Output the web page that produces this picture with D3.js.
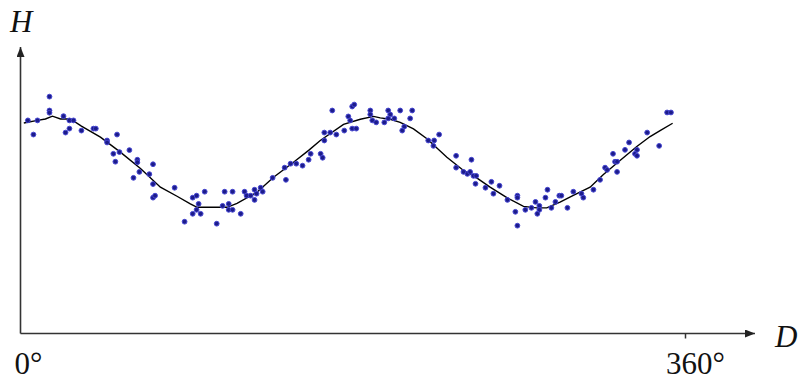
<!DOCTYPE html>
<html>
<head>
<meta charset="utf-8">
<script src="https://cdn.jsdelivr.net/npm/d3@7"></script>
<style>
  body { margin: 0; background: #fff; }
  svg { display: block; }
</style>
</head>
<body>
<svg id="chart" width="798" height="381"></svg>
<script>
// scatter points (D in degrees, H in arbitrary units)
const pointD = [
  4.0, 7.0, 9.2, 15.7, 15.7, 15.7, 23.3, 24.4, 26.5, 26.5, 28.7, 33.0, 39.5, 40.8,
  46.9, 46.9, 52.3, 50.3, 53.6, 51.4, 59.0, 63.3, 63.3, 64.4, 61.2, 69.8, 71.8, 71.8,
  71.8, 72.9, 83.5, 93.3, 95.4, 96.5, 95.4, 93.3, 97.6, 88.9, 99.8, 106.3, 109.5,
  110.6, 112.8, 112.8, 114.9, 114.9, 119.3, 121.4, 122.5, 124.7, 126.8, 127.9, 126.8,
  130.1, 131.2, 136.6, 143.1, 143.8, 146.3, 149.4, 152.8, 156.1, 157.2, 162.6, 163.7,
  164.6, 164.6, 167.8, 171.1, 168.9, 175.4, 177.6, 178.6, 179.7, 181.9, 179.7, 180.8,
  189.5, 189.5, 190.6, 192.7, 197.1, 199.2, 200.3, 199.2, 202.5, 205.7, 207.9, 206.8,
  211.1, 212.2, 220.9, 224.1, 223.7, 226.8, 236.0, 236.0, 244.3, 240.0, 242.1, 243.6,
  245.4, 246.9, 246.5, 251.9, 255.1, 256.2, 259.5, 263.8, 269.2, 269.2, 268.1, 269.2,
  273.5, 276.8, 279.0, 281.1, 281.1, 280.0, 284.4, 285.5, 287.6, 289.8, 291.9, 293.0,
  296.3, 299.5, 303.9, 304.9, 310.4, 314.0, 316.7, 317.8, 323.2, 322.1, 323.2, 321.0,
  327.5, 329.7, 332.9, 334.0, 334.0, 339.5, 346.0, 350.3, 352.4
];
const pointH = [
  75.3, 70.3, 75.3, 83.7, 78.8, 78.0, 76.8, 71.0, 75.3, 72.4, 75.3, 71.7, 72.4, 72.4,
  68.2, 67.5, 70.3, 63.5, 64.1, 60.7, 64.8, 61.4, 60.5, 57.1, 55.0, 56.3, 59.8, 52.8,
  48.0, 48.7, 51.5, 48.0, 48.7, 45.8, 43.7, 42.3, 42.3, 39.5, 50.1, 38.8, 45.1,
  50.1, 45.8, 43.7, 50.1, 43.7, 42.3, 50.1, 48.7, 48.7, 50.8, 49.4, 47.2,
  51.5, 50.1, 55.0, 58.6, 54.3, 60.0, 60.0, 59.3, 61.4, 63.5, 63.5, 62.1,
  68.2, 71.0, 71.0, 70.3, 78.8, 71.7, 76.7, 75.3, 72.4, 72.4, 80.2, 80.9,
  78.8, 77.4, 75.3, 74.6, 74.6, 78.8, 77.4, 76.0, 76.0, 78.8, 73.1, 71.7,
  76.0, 78.8, 68.2, 68.2, 66.3, 70.3, 62.8, 58.6, 61.4, 57.1, 56.4, 57.1,
  55.7, 55.7, 52.9, 51.5, 53.6, 49.4, 52.2, 47.2, 48.7, 48.0, 43.0, 38.1,
  43.7, 44.4, 46.5, 45.1, 43.7, 42.3, 48.0, 50.8, 44.4, 46.5, 48.7, 48.7,
  44.4, 50.1, 49.4, 48.0, 50.8, 54.3, 58.6, 57.8, 57.1, 60.7, 60.7, 63.5,
  64.9, 67.5, 63.5, 62.8, 64.9, 71.0, 66.3, 78.1, 78.1
];

// smoothed curve
const lineD = [
  1.8, 9.2, 13.5, 17.3, 21.7, 27.1, 33.0, 43.3, 54.1, 65.0, 75.8, 84.8, 92.0, 95.7,
  111.9, 117.3, 128.1, 137.1, 147.9, 156.1, 162.4, 175.0, 184.1, 191.3, 194.9, 200.3,
  205.7, 212.9, 220.2, 231.0, 240.0, 245.4, 254.4, 263.5, 272.5, 279.7, 285.1, 292.3,
  299.5, 308.6, 315.8, 324.8, 333.9, 341.1, 346.5, 353.3
];
const lineH = [
  74.4, 75.3, 75.8, 76.8, 75.8, 75.8, 73.3, 69.4, 64.1, 58.3, 51.7, 48.5, 45.8, 44.6,
  44.6, 46.0, 49.9, 55.2, 60.5, 64.7, 68.2, 73.9, 75.7, 76.7, 76.2, 75.7,
  74.6, 72.3, 68.8, 62.3, 57.6, 55.8, 51.7, 48.0, 44.9, 44.4, 44.4, 46.4,
  48.8, 51.7, 56.2, 61.1, 66.1, 69.6, 71.7, 74.3
];

const xTicks = [0, 360];
const xTickLabels = ["0°", "360°"];

const serif = "'Liberation Serif', 'Times New Roman', Times, 'DejaVu Serif', serif";

const svg = d3.select("#chart");
const x = d3.scaleLinear().domain([0, 360]).range([20.5, 685]);
const y = d3.scaleLinear().domain([0, 100]).range([333.5, 50.5]);

// arrowhead
svg.append("defs").append("marker")
  .attr("id", "arrow")
  .attr("viewBox", "0 0 10 8")
  .attr("refX", 10).attr("refY", 4)
  .attr("markerWidth", 10).attr("markerHeight", 8)
  .attr("markerUnits", "userSpaceOnUse")
  .attr("orient", "auto")
  .append("path")
  .attr("d", "M0,0 L10,4 L0,8 Z")
  .attr("fill", "#222");

// axes
svg.append("line")
  .attr("x1", x(0)).attr("y1", y(0))
  .attr("x2", 755).attr("y2", y(0))
  .attr("stroke", "#333").attr("stroke-width", 1.6)
  .attr("marker-end", "url(#arrow)");
svg.append("line")
  .attr("x1", x(0)).attr("y1", y(0))
  .attr("x2", x(0)).attr("y2", 47)
  .attr("stroke", "#333").attr("stroke-width", 1.6)
  .attr("marker-end", "url(#arrow)");

const xAxis = d3.axisBottom(x)
  .tickValues([360])
  .tickSize(5)
  .tickFormat("");
svg.append("g")
  .attr("transform", `translate(0,${y(0)})`)
  .call(xAxis)
  .call((g) => g.select(".domain").remove())
  .selectAll("line").attr("stroke", "#333").attr("stroke-width", 1.5);

// tick labels
const labelShift = [-6, -19];
svg.selectAll(".xlabel")
  .data(xTicks)
  .enter()
  .append("text")
  .attr("class", "xlabel")
  .attr("x", (d, i) => x(d) + labelShift[i])
  .attr("y", 374)
  .attr("font-family", serif)
  .attr("font-size", 31)
  .attr("fill", "#111")
  .text((d, i) => xTickLabels[i]);

svg.append("text")
  .attr("x", 10).attr("y", 32)
  .attr("font-family", serif)
  .attr("font-size", 31).attr("font-style", "italic")
  .attr("fill", "#111")
  .text("H");
svg.append("text")
  .attr("x", 775).attr("y", 347)
  .attr("font-family", serif)
  .attr("font-size", 31).attr("font-style", "italic")
  .attr("fill", "#111")
  .text("D");

// curve
const line = d3.line()
  .x((d, i) => x(lineD[i]))
  .y((d, i) => y(lineH[i]));
svg.append("path")
  .datum(lineD)
  .attr("d", line)
  .attr("fill", "none")
  .attr("stroke", "#000")
  .attr("stroke-width", 1.4);

// points
svg.selectAll(".pt")
  .data(pointD)
  .enter()
  .append("circle")
  .attr("class", "pt")
  .attr("cx", (d) => x(d))
  .attr("cy", (d, i) => y(pointH[i]))
  .attr("r", 2.4)
  .attr("fill", "#1c1c8a")
  .attr("stroke", "#4646d2")
  .attr("stroke-width", 1);
</script>
</body>
</html>
